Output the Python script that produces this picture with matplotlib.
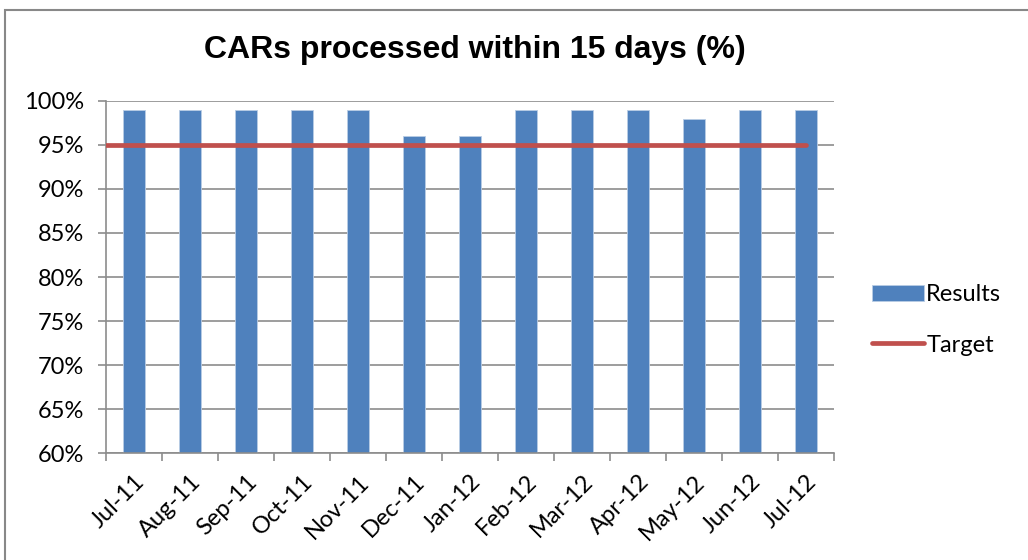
import matplotlib
matplotlib.use("Agg")
import matplotlib.pyplot as plt
from matplotlib.patches import Rectangle
from matplotlib.ticker import FuncFormatter, FixedLocator

MONTHS = ["Jul-11", "Aug-11", "Sep-11", "Oct-11", "Nov-11", "Dec-11", "Jan-12",
          "Feb-12", "Mar-12", "Apr-12", "May-12", "Jun-12", "Jul-12"]
RESULTS = [99, 99, 99, 99, 99, 96, 96, 99, 99, 99, 98, 99, 99]
TARGET = 95
Y_TICKS = [60, 65, 70, 75, 80, 85, 90, 95, 100]

BLUE = "#4F81BD"
RED = "#C0504D"
GRID = "#8c8c8c"
TICK_FONT = "Lato"
TICK_SIZE = 17

fig = plt.figure(figsize=(10.28, 5.6), dpi=100)
ax = fig.add_axes([106 / 1028, 1 - 453 / 560, 728 / 1028, 352 / 560])

x = list(range(len(MONTHS)))
bars = ax.bar(x, RESULTS, width=0.41, color=BLUE, edgecolor="#b9cde5",
              linewidth=0.6, label="Results", zorder=2)
line, = ax.plot([x[0] - 0.5, x[-1]], [TARGET, TARGET], color=RED, linewidth=3.4,
                solid_capstyle="round", label="Target", zorder=3)

ax.set_xlim(-0.5, len(MONTHS) - 0.5)
ax.set_ylim(60, 100)
ax.set_yticks(Y_TICKS)
ax.yaxis.set_major_formatter(FuncFormatter(lambda v, p: f"{v:.0f}%"))
ax.yaxis.grid(True, color=GRID, linewidth=1.2, zorder=0)
ax.set_axisbelow(True)

ax.set_xticks(x)
ax.set_xticklabels(MONTHS, rotation=45, ha="right", rotation_mode="anchor",
                   fontsize=TICK_SIZE, family=TICK_FONT)
ax.xaxis.set_minor_locator(FixedLocator([i - 0.5 for i in range(len(MONTHS) + 1)]))
ax.tick_params(axis="x", which="major", length=0, pad=13)
ax.tick_params(axis="x", which="minor", length=6, width=1.2, color=GRID)
ax.tick_params(axis="y", length=6, width=1.2, color=GRID, pad=10)
for lab in ax.get_yticklabels():
    lab.set_fontsize(TICK_SIZE)
    lab.set_family(TICK_FONT)

for s in ("top", "right"):
    ax.spines[s].set_visible(False)
for s in ("left", "bottom"):
    ax.spines[s].set_color(GRID)
    ax.spines[s].set_linewidth(1.2)

fig.text(475 / 1028, 1 - 50 / 560, "CARs processed within 15 days (%)",
         ha="center", va="center", fontsize=23, fontweight="bold",
         family="Liberation Sans")

fig.legend([bars, line], ["Results", "Target"], loc="center left",
           bbox_to_anchor=(872 / 1028, 1 - 320 / 560),
           frameon=False, prop={"family": TICK_FONT, "size": TICK_SIZE},
           handlelength=2.2, handletextpad=0.1, labelspacing=1.25,
           borderaxespad=0, borderpad=0)

fig.add_artist(Rectangle((5 / 1028, -0.1), 1.2, 1 - 10 / 560 + 0.1,
                         transform=fig.transFigure, fill=False,
                         edgecolor="#888888", linewidth=1.5))

fig.savefig("out.png", dpi=100)
